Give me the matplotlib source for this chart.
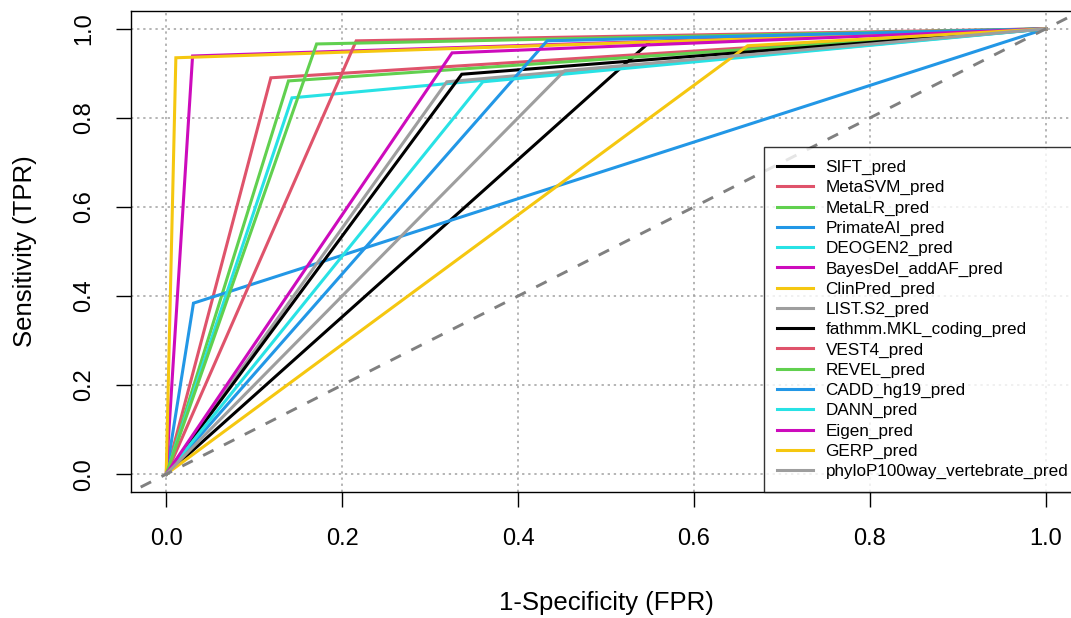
import matplotlib
matplotlib.use("Agg")
import matplotlib.pyplot as plt

plt.rcParams["font.family"] = ["Liberation Sans", "DejaVu Sans"]

# predictor names (legend order)
predictors = ["SIFT_pred", "MetaSVM_pred", "MetaLR_pred", "PrimateAI_pred",
              "DEOGEN2_pred", "BayesDel_addAF_pred", "ClinPred_pred", "LIST.S2_pred",
              "fathmm.MKL_coding_pred", "VEST4_pred", "REVEL_pred", "CADD_hg19_pred",
              "DANN_pred", "Eigen_pred", "GERP_pred", "phyloP100way_vertebrate_pred"]

# single operating point of each binary predictor (FPR, TPR)
fpr = [0.550, 0.119, 0.139, 0.031, 0.143, 0.030, 0.011, 0.319,
       0.336, 0.216, 0.171, 0.433, 0.360, 0.325, 0.661, 0.453]
tpr = [0.971, 0.890, 0.883, 0.384, 0.845, 0.939, 0.935, 0.881,
       0.898, 0.973, 0.966, 0.973, 0.881, 0.946, 0.962, 0.906]

# R default palette, recycled
palette = ["#000000", "#DF536B", "#61D04F", "#2297E6",
           "#28E2E5", "#CD0BBC", "#F5C710", "#9E9E9E"]

ticks = [0.0, 0.2, 0.4, 0.6, 0.8, 1.0]
tick_labels = ["0.0", "0.2", "0.4", "0.6", "0.8", "1.0"]

fig = plt.figure(figsize=(10.71, 6.18), dpi=100)
ax = fig.add_axes([131 / 1071, 1 - 492 / 618, 950 / 1071, 481 / 618])

ax.set_xlim(-0.04, 1.04)
ax.set_ylim(-0.04, 1.04)

# grid
for t in ticks:
    ax.axvline(t, color="#A0A0A0", lw=1.1, ls=(0, (1.5, 2.5)), zorder=1)
    ax.axhline(t, color="#A0A0A0", lw=1.1, ls=(0, (1.5, 2.5)), zorder=1)

# ROC curves
for i, name in enumerate(predictors):
    ax.plot([0, fpr[i], 1], [0, tpr[i], 1], color=palette[i % len(palette)],
            lw=2.2, label=name, zorder=3, solid_joinstyle="miter")

# chance line
ax.plot([-0.1, 1.1], [-0.1, 1.1], color="#808080", lw=2.1, ls=(0, (4, 4)), zorder=4)

ax.set_xticks(ticks)
ax.set_xticklabels(tick_labels)
ax.set_yticks(ticks)
ax.set_yticklabels(tick_labels, rotation=90, va="center")
ax.tick_params(axis="both", length=11, width=1, labelsize=17, pad=15, color="black")

for s in ax.spines.values():
    s.set_linewidth(1)

ax.set_xlabel("1-Specificity (FPR)", fontsize=18.5, va="center")
ax.xaxis.set_label_coords(0.5, -(603 - 492) / 481)
ax.set_ylabel("Sensitivity (TPR)", fontsize=18.5, va="center")
ax.yaxis.set_label_coords((25 - 131) / 950, 0.5)

leg = ax.legend(loc="lower right", bbox_to_anchor=(1, 0), borderaxespad=0,
                fontsize=12.3, frameon=True, fancybox=False, edgecolor="black",
                handlelength=2.1, handletextpad=0.75, labelspacing=0.3,
                borderpad=0.75)
leg.get_frame().set_linewidth(1)
leg.set_zorder(10)

fig.savefig("out.png", dpi=100)
